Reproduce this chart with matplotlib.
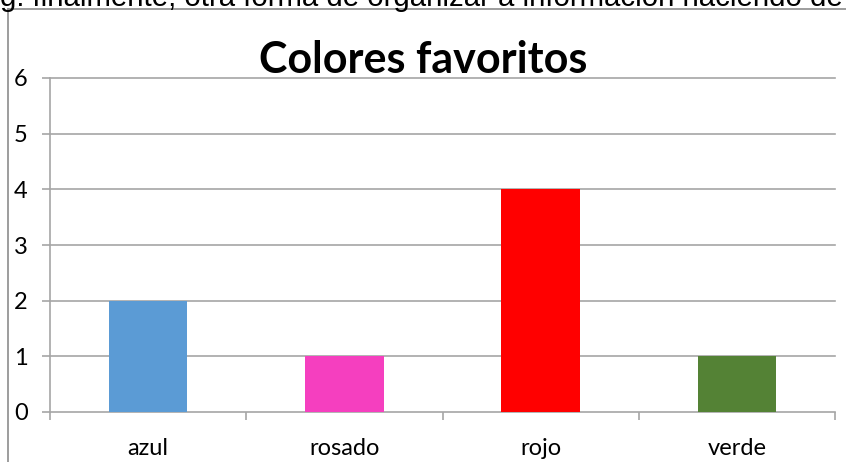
import matplotlib.pyplot as plt
from matplotlib.lines import Line2D

categories = ["azul", "rosado", "rojo", "verde"]
values = [2, 1, 4, 1]
bar_colors = ["#5B9BD5", "#F53FBF", "#FF0000", "#548235"]
y_ticks = [0, 1, 2, 3, 4, 5, 6]

W, H = 846, 462
fig = plt.figure(figsize=(W / 100, H / 100), dpi=100)

# page text cut off above the chart
fig.text(0.0, 1 - 6 / H, "g. finalmente, otra forma de organizar a información haciendo de",
         family="Liberation Sans", fontsize=21.2, va="baseline", ha="left", color="black")

# chart frame (only left and top edges are visible)
frame_c = "#8C8C8C"
fig.add_artist(Line2D([8 / W, 1.0], [1 - 9 / H, 1 - 9 / H], transform=fig.transFigure,
                      color=frame_c, linewidth=1.2))
fig.add_artist(Line2D([8 / W, 8 / W], [0.0, 1 - 9 / H], transform=fig.transFigure,
                      color=frame_c, linewidth=1.2))

ax = fig.add_axes([50 / W, 50 / H, 785 / W, 334 / H])
x = range(len(categories))
ax.bar(x, values, width=0.4, color=bar_colors, zorder=3)

ax.set_xlim(-0.5, len(categories) - 0.5)
ax.set_ylim(0, 6)
ax.set_yticks(y_ticks)
ax.set_xticks(list(x))
ax.set_xticklabels(categories)
ax.set_xticks([i - 0.5 for i in range(len(categories) + 1)], minor=True)

grid_c = "#A6A6A6"
for v in y_ticks[1:]:
    ax.axhline(v, color=grid_c, linewidth=1.2, zorder=1, clip_on=False)
for side in ["top", "right"]:
    ax.spines[side].set_visible(False)
for side in ["left", "bottom"]:
    ax.spines[side].set_color(grid_c)
    ax.spines[side].set_linewidth(1.2)

ax.tick_params(axis="y", length=6, width=1.2, color=grid_c, pad=15,
               labelsize=17, labelfontfamily="Lato")
ax.tick_params(axis="x", which="major", length=0, pad=19, labelsize=17, labelfontfamily="Lato")
ax.tick_params(axis="x", which="minor", length=6, width=1.2, color=grid_c, direction="out")
for lab in ax.get_yticklabels():
    lab.set_horizontalalignment("center")

fig.text(0.5, 1 - 73 / H, "Colores favoritos", family="Lato", fontweight="bold",
         fontsize=31, ha="center", va="baseline")

fig.savefig("out.png", dpi=100)
